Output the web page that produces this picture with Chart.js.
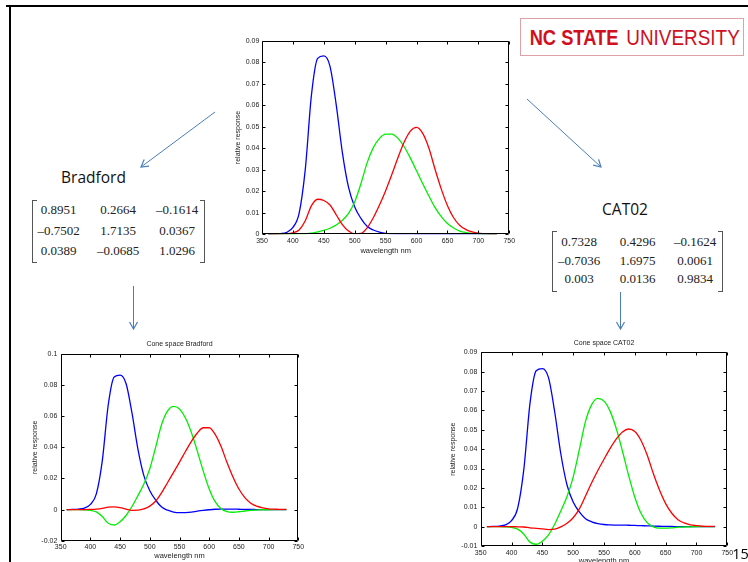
<!DOCTYPE html>
<html><head><meta charset="utf-8">
<script src="https://cdn.jsdelivr.net/npm/chart.js@4/dist/chart.umd.min.js"></script>
<style>
html,body{margin:0;padding:0;background:#fff;}
body{width:748px;height:562px;position:relative;overflow:hidden;font-family:"Liberation Sans",Arial,sans-serif;}
.abs{position:absolute;}
canvas{position:absolute;display:block;}
.c{position:absolute;transform:translate(-50%,-50%);white-space:nowrap;line-height:normal;}
.mx{font-family:"Liberation Serif","Times New Roman",serif;font-size:13px;color:#222;}
.lbl{font-family:"Open Sans","Noto Sans",sans-serif;font-size:15.5px;color:#111;}
.brk{position:absolute;border:1px solid #555;}
.brk.l{border-right:none;width:4px;}
.brk.r{border-left:none;width:4px;}
</style></head>
<body>
<div class="abs" style="left:6px;top:5px;width:742px;height:2px;background:#000"></div>
<div class="abs" style="left:9px;top:5px;width:2px;height:557px;background:#000"></div>

<div class="abs" style="left:520px;top:18px;width:222px;height:36px;border:1.5px solid #e0a0a8;"></div>
<div class="c" style="left:574px;top:37.7px;font:bold 21.5px 'Liberation Sans',Arial,sans-serif;color:#d0101e;transform:translate(-50%,-50%) scaleX(0.85);">NC STATE</div>
<div class="c" style="left:682.5px;top:37.7px;font:21.5px 'Liberation Sans',Arial,sans-serif;color:#d0101e;transform:translate(-50%,-50%) scaleX(0.88);">UNIVERSITY</div>

<canvas id="cTop" width="292" height="230" style="left:226px;top:33px"></canvas>
<canvas id="cBrad" width="288" height="226" style="left:20px;top:336px"></canvas>
<canvas id="cCat" width="302" height="240" style="left:440px;top:335px"></canvas>

<div id="texts"></div>

<svg class="abs" style="left:0;top:0" width="748" height="562">
<defs><marker id="ah" markerWidth="10" markerHeight="10" refX="8" refY="5" orient="auto" markerUnits="userSpaceOnUse"><path d="M1,1 L8,5 L1,9" fill="none" stroke="#4a7ebb" stroke-width="1.2"/></marker></defs>
<line x1="215" y1="112" x2="141" y2="167" stroke="#4a7ebb" stroke-width="1" marker-end="url(#ah)"/>
<line x1="527" y1="99" x2="601" y2="167" stroke="#4a7ebb" stroke-width="1" marker-end="url(#ah)"/>
<line x1="133.5" y1="286" x2="133.5" y2="329" stroke="#4a7ebb" stroke-width="1" marker-end="url(#ah)"/>
<line x1="620.5" y1="292" x2="620.5" y2="329" stroke="#4a7ebb" stroke-width="1" marker-end="url(#ah)"/>
</svg>

<script>
// ---------------- data ----------------
const wavelengths = [360,370,380,390,400,410,420,430,440,450,460,470,480,490,500,510,520,530,540,550,560,570,580,590,600,610,620,630,640,650,660,670,680,690,700,710,720,730];

// top chart (XYZ colour matching functions)
const topRed   = [0,0,0.0001,0.0002,0.0007,0.0020,0.0063,0.0133,0.0163,0.0157,0.0136,0.0091,0.0045,0.0015,0.0002,0.0004,0.0030,0.0077,0.0136,0.0203,0.0278,0.0357,0.0429,0.0480,0.0497,0.0469,0.0400,0.0301,0.0210,0.0133,0.0077,0.0041,0.0022,0.0011,0.0005,0.0003,0.0001,0.0001];
const topGreen = [0,0,0,0,0,0.0001,0.0002,0.0005,0.0011,0.0018,0.0028,0.0043,0.0065,0.0097,0.0151,0.0235,0.0332,0.0403,0.0446,0.0466,0.0466,0.0446,0.0407,0.0354,0.0295,0.0235,0.0178,0.0124,0.0082,0.0050,0.0029,0.0015,0.0008,0.0004,0.0002,0.0001,0,0];
const topBlue  = [0,0.0001,0.0003,0.0009,0.0032,0.0097,0.0302,0.0648,0.0818,0.0829,0.0781,0.0603,0.0380,0.0218,0.0127,0.0074,0.0037,0.0020,0.0010,0.0004,0.0002,0.0001,0.0001,0.0001,0,0,0,0,0,0,0,0,0,0,0,0,0,0];

// Cone space Bradford
const bradRed   = [0,0,0,0,0.0001,0.0003,0.0008,0.0016,0.0018,0.0013,0.0003,-0.0005,-0.0004,0.0004,0.0022,0.0055,0.0109,0.0174,0.0239,0.0305,0.0373,0.0438,0.0492,0.0526,0.0526,0.0483,0.0405,0.0302,0.0209,0.0132,0.0077,0.0041,0.0022,0.0011,0.0005,0.0003,0.0001,0.0001];
const bradGreen = [0,0,0,-0.0001,-0.0005,-0.0015,-0.0045,-0.0088,-0.0099,-0.0078,-0.0038,0.0020,0.0090,0.0164,0.0262,0.0403,0.0548,0.0634,0.0663,0.0646,0.0589,0.0496,0.0376,0.0247,0.0133,0.0051,0.0006,-0.0013,-0.0017,-0.0014,-0.0009,-0.0005,-0.0003,-0.0001,-0.0001,0,0,0];
const bradBlue  = [0,0.0001,0.0003,0.0010,0.0033,0.0101,0.0313,0.0672,0.0852,0.0864,0.0810,0.0621,0.0389,0.0218,0.0121,0.0060,0.0016,-0.0004,-0.0016,-0.0020,-0.0019,-0.0016,-0.0010,-0.0005,-0.0001,0.0002,0.0003,0.0003,0.0003,0.0002,0.0001,0.0001,0,0,0,0,0,0];

// Cone space CAT02
const catRed   = [0,0,0,0,0,-0.0001,-0.0002,-0.0006,-0.0009,-0.0012,-0.0015,-0.0013,-0.0001,0.0017,0.0046,0.0092,0.0158,0.0227,0.0290,0.0348,0.0404,0.0453,0.0489,0.0504,0.0491,0.0445,0.0370,0.0274,0.0189,0.0119,0.0069,0.0036,0.0019,0.0009,0.0005,0.0002,0.0001,0.0001];
const catGreen = [0,0,0,-0.0001,-0.0004,-0.0013,-0.0039,-0.0080,-0.0091,-0.0075,-0.0043,0.0012,0.0081,0.0156,0.0256,0.0397,0.0543,0.0630,0.0662,0.0648,0.0595,0.0505,0.0389,0.0263,0.0152,0.0069,0.0021,-0.0001,-0.0008,-0.0008,-0.0006,-0.0003,-0.0002,-0.0001,0,0,0,0];
const catBlue  = [0,0.0001,0.0003,0.0009,0.0031,0.0096,0.0297,0.0638,0.0805,0.0816,0.0769,0.0593,0.0375,0.0215,0.0127,0.0076,0.0041,0.0025,0.0016,0.0011,0.0009,0.0008,0.0008,0.0007,0.0006,0.0005,0.0004,0.0003,0.0002,0.0001,0.0001,0,0,0,0,0,0,0];

// tick labels
const xTicks    = [350,400,450,500,550,600,650,700,750];
const topYTicks = [0,0.01,0.02,0.03,0.04,0.05,0.06,0.07,0.08,0.09];
const bradYTicks= [-0.02,0,0.02,0.04,0.06,0.08,0.1];
const catYTicks = [-0.01,0,0.01,0.02,0.03,0.04,0.05,0.06,0.07,0.08,0.09];

// matrices
const bradfordMatrix = [["0.8951","0.2664","\u20130.1614"],["\u20130.7502","1.7135","0.0367"],["0.0389","\u20130.0685","1.0296"]];
const cat02Matrix    = [["0.7328","0.4296","\u20130.1624"],["\u20130.7036","1.6975","0.0061"],["0.003","0.0136","0.9834"]];

// ---------------- text layout ----------------
const texts = document.getElementById('texts');
function put(txt, cls, x, y, extra){
  const d = document.createElement('div');
  d.className = 'c ' + cls; d.textContent = txt;
  d.style.left = x + 'px'; d.style.top = y + 'px';
  if (extra) Object.assign(d.style, extra);
  texts.appendChild(d);
}
function bracket(l, r, t, b){
  const a = document.createElement('div'); a.className='brk l';
  Object.assign(a.style,{left:l+'px',top:t+'px',height:(b-t)+'px'}); texts.appendChild(a);
  const c = document.createElement('div'); c.className='brk r';
  Object.assign(c.style,{left:(r-5)+'px',top:t+'px',height:(b-t)+'px'}); texts.appendChild(c);
}
put('Bradford','lbl',93.5,176.7);
put('CAT02','lbl',625,208.5);
put('15','lbl',740.5,553,{fontSize:'14.5px',color:'#000'});
const bradCols=[58.5,118,177], bradRows=[210,230.7,250.7];
bradfordMatrix.forEach((row,i)=>row.forEach((v,j)=>put(v,'mx',bradCols[j],bradRows[i])));
bracket(31.5,205,200,261);
const catCols=[579,637.5,695], catRows=[241.7,260.7,279.3];
cat02Matrix.forEach((row,i)=>row.forEach((v,j)=>put(v,'mx',catCols[j],catRows[i])));
bracket(551.5,723,231,290);

// ---------------- charts ----------------
const FONT = "'Liberation Sans', Arial, sans-serif";
const boxTicks = {
  id:'boxTicks',
  afterDraw(chart){
    const {ctx, chartArea:a, scales:{x,y}} = chart;
    const L = 3;
    ctx.save();
    ctx.strokeStyle='#000'; ctx.lineWidth=1;
    const l=Math.round(a.left)+0.5, r=Math.round(a.right)-0.5, t=Math.round(a.top)+0.5, b=Math.round(a.bottom)-0.5;
    ctx.beginPath();
    ctx.rect(l,t,r-l,b-t);
    x.ticks.forEach(tk=>{const p=Math.round(x.getPixelForValue(tk.value))+0.5; ctx.moveTo(p,b); ctx.lineTo(p,b-L); ctx.moveTo(p,t); ctx.lineTo(p,t+L);});
    y.ticks.forEach(tk=>{const p=Math.round(y.getPixelForValue(tk.value))+0.5; ctx.moveTo(l,p); ctx.lineTo(l+L,p); ctx.moveTo(r,p); ctx.lineTo(r-L,p);});
    ctx.stroke();
    ctx.restore();
  }
};
const fmt = v => String(Math.round(v*1000)/1000);

function makeChart(id, c){
  const series = [
    {values:c.red, color:'#ff0000'},
    {values:c.green, color:'#00ee00'},
    {values:c.blue, color:'#0000ff'}
  ];
  return new Chart(document.getElementById(id), {
    type:'line',
    data:{datasets: series.map(s=>({
      data: wavelengths.map((w,i)=>({x:w,y:s.values[i]})),
      borderColor:s.color, borderWidth:1.3, pointRadius:0, fill:false,
      cubicInterpolationMode:'monotone'
    }))},
    options:{
      responsive:false, animation:false, devicePixelRatio:1,
      layout:{padding:{top:c.padTop,right:c.padRight,left:0,bottom:0}},
      plugins:{
        legend:{display:false}, tooltip:{enabled:false},
        title: c.title ? {display:true,text:c.title,fullSize:false,color:'#222',
          font:{family:FONT,size:7,weight:'normal'},padding:{top:c.titleTop,bottom:c.titleBottom}} : {display:false}
      },
      scales:{
        x:{type:'linear',min:350,max:750,
          afterBuildTicks:s=>{s.ticks=xTicks.map(v=>({value:v}));},
          ticks:{font:{family:FONT,size:7},color:'#222',padding:c.xPad,maxRotation:0,autoSkip:false},
          grid:{display:false,drawTicks:false},border:{display:false},
          title:{display:true,text:'wavelength nm',color:'#222',font:{family:FONT,size:7.5},padding:{top:0,bottom:c.xTitlePad}},
          afterFit:s=>{s.height=c.xHeight;}
        },
        y:{type:'linear',min:c.yTicks[0],max:c.yTicks[c.yTicks.length-1],
          afterBuildTicks:s=>{s.ticks=c.yTicks.map(v=>({value:v}));},
          ticks:{font:{family:FONT,size:7},color:'#222',padding:c.yPad,callback:fmt,autoSkip:false},
          grid:{display:false,drawTicks:false},border:{display:false},
          title:{display:true,text:'relative response',color:'#222',font:{family:FONT,size:7},padding:{top:c.yTitlePad,bottom:0}},
          afterFit:s=>{s.width=c.yWidth;}
        }
      }
    },
    plugins:[boxTicks]
  });
}

makeChart('cTop',{red:topRed,green:topGreen,blue:topBlue,yTicks:topYTicks,
  padTop:7.7,padRight:8.7,yWidth:36,xHeight:28.7,xPad:2.5,xTitlePad:7.8,yPad:2.7,yTitlePad:7.8});
makeChart('cBrad',{red:bradRed,green:bradGreen,blue:bradBlue,yTicks:bradYTicks,title:'Cone space Bradford',titleTop:4.1,titleBottom:5.5,
  padTop:0,padRight:9.7,yWidth:40.7,xHeight:21.3,xPad:2.5,xTitlePad:1.8,yPad:3.4,yTitlePad:10.5});
makeChart('cCat',{red:catRed,green:catGreen,blue:catBlue,yTicks:catYTicks,title:'Cone space CAT02',titleTop:4.1,titleBottom:4.8,
  padTop:0,padRight:14.7,yWidth:40.7,xHeight:29,xPad:2.5,xTitlePad:9.5,yPad:3.4,yTitlePad:8.8});
</script>
</body></html>
